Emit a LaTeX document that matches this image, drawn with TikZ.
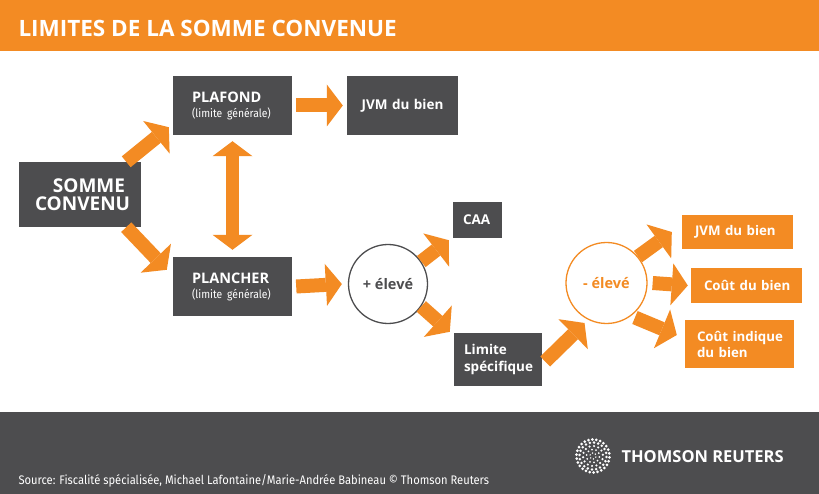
\documentclass[tikz,border=0pt]{standalone}
\usepackage{fontspec}
\setmainfont{Open Sans}
\newfontfamily\condfont[FakeStretch=0.9]{Fira Sans}
\usetikzlibrary{arrows.meta,calc}
\definecolor{trorange}{HTML}{F38B23}
\definecolor{trgrey}{HTML}{4D4D4F}
\tikzset{
  darkbox/.style={fill=trgrey, text=white, inner ysep=0pt, align=left,
    font=\bfseries\fontsize{13.5}{17}\selectfont},
  orangebox/.style={fill=trorange, text=white, inner ysep=0pt, align=left,
    font=\bfseries\fontsize{13.3}{16}\selectfont},
  ringnode/.style={circle, line width=1.3pt, inner sep=0pt,
    font=\bfseries\fontsize{14.5}{17}\selectfont},
  bigarrow/.style={draw=trorange, line width=14pt,
    -{Triangle[width=42pt,length=16pt,line width=0pt]}},
  bothways/.style={draw=trorange, line width=13pt,
    {Triangle[width=40pt,length=15pt,line width=0pt]}-{Triangle[width=40pt,length=15pt,line width=0pt]}},
}
\newcommand{\sublabel}[1]{{\condfont\mdseries\fontsize{11.5}{12}\selectfont #1}}
\begin{document}
\begin{tikzpicture}[x=1pt,y=-1pt]
\useasboundingbox (0,0) rectangle (819,494);
\fill[white] (0,0) rectangle (819,494);
% bandeau du haut et pied de page
\fill[trorange] (0,0) rectangle (819,51);
\node[anchor=west, text=white, font=\bfseries\fontsize{22.5}{22}\selectfont] (titre) at (15,28) {LIMITES DE LA SOMME CONVENUE};
\fill[trgrey] (0,412) rectangle (819,494);
\node[anchor=west, text=white, font=\condfont\fontsize{12.4}{13}\selectfont] (source) at (15,481) {Source: Fiscalité spécialisée, Michael Lafontaine/Marie-Andrée Babineau © Thomson Reuters};
\node[anchor=west, text=white, font=\bfseries\fontsize{16.5}{17}\selectfont] (tr) at (618,457) {THOMSON REUTERS};
\coordinate (logo) at (593,456);
\foreach \r/\n/\s in {3/6/0.8, 6.5/10/1.0, 10/14/1.2, 13.5/20/1.4, 16.5/26/1.5}
{
  \foreach \k in {1,...,\n}
    \fill[white] ($(logo)+({\r*cos(\k*360/\n+\r*7)},{\r*sin(\k*360/\n+\r*7)})$) circle (\s);
}
% boites
\node[darkbox, align=right, text width=90pt, inner xsep=16pt, minimum height=65pt,
  font=\bfseries\fontsize{19}{17.5}\selectfont] (somme) at (80,194.5) {SOMME\\CONVENU};
\node[darkbox, text width=81pt, inner xsep=19pt, minimum height=59pt,
  font=\bfseries\fontsize{14.5}{15}\selectfont] (plafond) at (232.5,105.5) {PLAFOND\\\sublabel{(limite générale)}};
\node[darkbox, align=center, text width=91pt, inner xsep=10pt, minimum height=59pt] (jvm) at (402.5,105.5) {JVM du bien};
\node[darkbox, text width=81pt, inner xsep=19pt, minimum height=59pt,
  font=\bfseries\fontsize{14.5}{15}\selectfont] (plancher) at (232.5,286.5) {PLANCHER\\\sublabel{(limite générale)}};
\node[ringnode, draw=trgrey, text=trgrey, minimum size=79pt] (plus) at (388,284) {+ élevé};
\node[darkbox, text width=29pt, inner xsep=10pt, minimum height=36pt] (caa) at (477.5,220) {CAA};
\node[darkbox, text width=68pt, inner xsep=10pt, minimum height=53pt] (limite) at (498,359.5) {Limite\\spécifique};
\node[ringnode, draw=trorange, text=trorange, minimum size=81pt] (moins) at (606.5,283) {- élevé};
\node[orangebox, text width=85pt, inner xsep=13pt, minimum height=34pt] (jvmb) at (737.5,232) {\mbox{JVM du bien}};
\node[orangebox, text width=85pt, inner xsep=13pt, minimum height=35pt] (cout) at (746.5,285.5) {\mbox{Coût du bien}};
\node[orangebox, text width=85pt, inner xsep=12pt, minimum height=48pt] (indique) at (739.5,344) {\mbox{Coût indique}\\du bien};
% fleches
\draw[bigarrow] ([xshift=-15pt]somme.north east) -- ($(plafond.south west)+(-4,-8)$);
\draw[bigarrow] ([xshift=-15pt]somme.south east) -- ($(plancher.north west)+(-6,13)$);
\draw[bigarrow] ([xshift=4pt]plafond.east) -- ([xshift=-4pt]jvm.west);
\draw[bothways] ([yshift=-6pt]plafond.south) -- ([yshift=7pt]plancher.north);
\draw[bigarrow] ([xshift=4pt]plancher.east) -- ([xshift=-6pt]plus.west);
\draw[bigarrow] (plus.34) -- ($(caa.south west)+(-4,2)$);
\draw[bigarrow] (plus.-34) -- ($(limite.north west)+(-4,-1)$);
\draw[bigarrow] ($(limite.east)+(3,2)$) -- ($(moins.-119)+(-2,4)$);
\draw[bigarrow] (moins.40) -- ([xshift=-10pt]jvmb.west);
\draw[bigarrow] ([xshift=5pt]moins.east) -- ([xshift=-3pt]cout.west);
\draw[bigarrow] ($(moins.-50)+(2,3)$) -- ($(indique.west)+(-8,-9)$);
\end{tikzpicture}
\end{document}
